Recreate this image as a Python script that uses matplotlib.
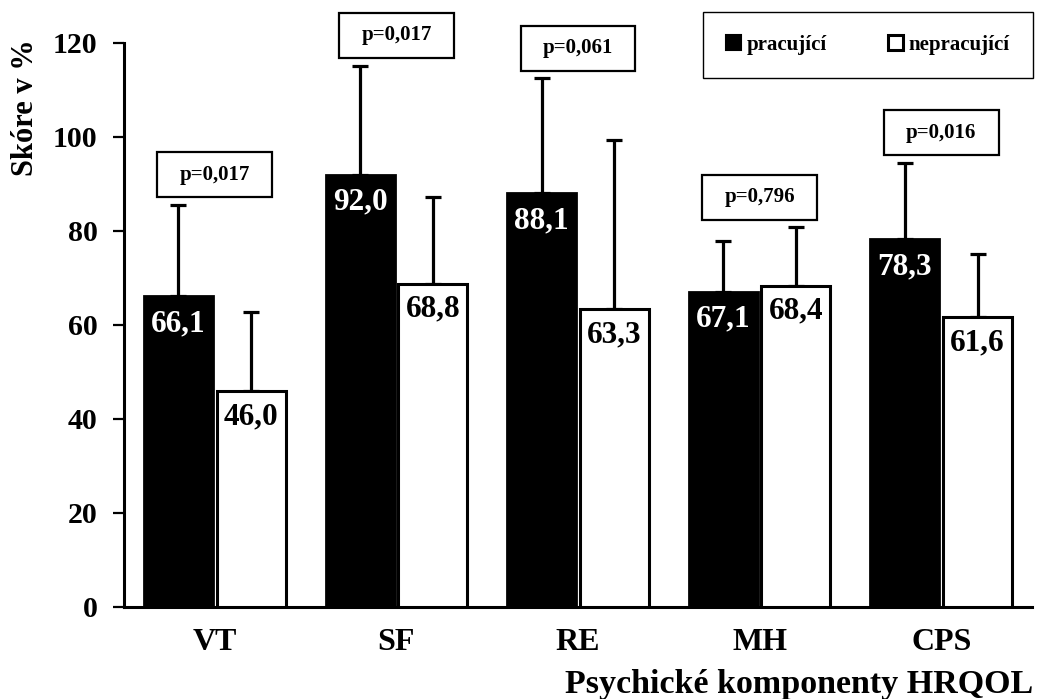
import matplotlib
matplotlib.use("Agg")
import matplotlib.pyplot as plt
from matplotlib.patches import Rectangle, Patch
import numpy as np

categories = ["VT", "SF", "RE", "MH", "CPS"]
working = [66.1, 92.0, 88.1, 67.1, 78.3]
not_working = [46.0, 68.8, 63.3, 68.4, 61.6]
working_sd = [19.5, 23.2, 24.4, 10.7, 16.2]
not_working_sd = [16.7, 18.5, 36.1, 12.4, 13.4]
p_values = ["p=0,017", "p=0,017", "p=0,061", "p=0,796", "p=0,016"]
series_names = ["pracující", "nepracující"]
yticks = [0, 20, 40, 60, 80, 100, 120]

plt.rcParams['font.family'] = ['Liberation Serif', 'DejaVu Serif']
plt.rcParams['font.weight'] = 'bold'

fig = plt.figure(figsize=(10.38, 6.99), dpi=100)
ax = fig.add_axes([0.11946, 0.13162, 0.87476, 0.80687])

x = np.arange(len(categories))
w = 0.38
off = 0.2

ax.bar(x - off, working, w, color="black", edgecolor="black", linewidth=2, zorder=3)
ax.bar(x + off, not_working, w, color="white", edgecolor="black", linewidth=2.2, zorder=3)

ax.errorbar(x - off, working, yerr=[np.zeros(len(x)), working_sd], fmt='none',
            ecolor='black', elinewidth=2.3, capsize=5.5, capthick=2.3, zorder=2)
ax.errorbar(x + off, not_working, yerr=[np.zeros(len(x)), not_working_sd], fmt='none',
            ecolor='black', elinewidth=2.3, capsize=5.5, capthick=2.3, zorder=2)

for xi, v in zip(x - off, working):
    ax.annotate(f"{v:.1f}".replace('.', ','), (xi, v), xytext=(0, -20), textcoords='offset points',
                ha='center', va='center', color='white', fontsize=22.5, fontweight='bold', zorder=5)
for xi, v in zip(x + off, not_working):
    ax.annotate(f"{v:.1f}".replace('.', ','), (xi, v), xytext=(0, -18.5), textcoords='offset points',
                ha='center', va='center', color='black', fontsize=22.5, fontweight='bold', zorder=5)

# p-value boxes
bw, bh = 0.633, 9.6
for xi, a, sa, b, sb, p in zip(x, working, working_sd, not_working, not_working_sd, p_values):
    bottom = max(a + sa, b + sb) + 1.6
    rect = Rectangle((xi - bw / 2, bottom), bw, bh, facecolor='white', edgecolor='black',
                     linewidth=1.6, clip_on=False, zorder=6)
    ax.add_patch(rect)
    ax.text(xi, bottom + bh / 2, p, ha='center', va='center', fontsize=15, fontweight='bold',
            clip_on=False, zorder=7)

ax.set_xlim(-0.5, len(categories) - 0.5)
ax.set_ylim(0, 120)
ax.set_yticks(yticks)
ax.set_yticklabels([str(t) for t in yticks], fontsize=21.5, fontweight='bold')
ax.set_xticks(x)
ax.set_xticklabels(categories, fontsize=23, fontweight='bold')
ax.tick_params(axis='x', length=0, pad=15)
ax.tick_params(axis='y', length=8, width=1.6, pad=11, direction='out')

for s in ['top', 'right']:
    ax.spines[s].set_visible(False)
for s in ['left', 'bottom']:
    ax.spines[s].set_linewidth(2.2)

ax.set_xlabel("Psychické komponenty HRQOL", fontsize=24.5, fontweight='bold', loc='right')
ax.xaxis.set_label_coords(1.001, -0.152)
ax.xaxis.label.set_va('baseline')

ax.set_ylabel("Skóre v %", fontsize=22, fontweight='bold')
ax.yaxis.set_label_coords(-0.109, 0.885)
ax.yaxis.label.set_va('center')
ax.yaxis.label.set_ha('center')

handles = [Patch(facecolor='black', edgecolor='black', linewidth=1.5),
           Patch(facecolor='white', edgecolor='black', linewidth=2.2)]
leg = ax.legend(handles, series_names, ncol=2, loc='center',
                bbox_to_anchor=(0.836, 0.9356), bbox_transform=fig.transFigure,
                frameon=True, fancybox=False, edgecolor='black', framealpha=1,
                prop={'size': 15, 'weight': 'bold'}, borderpad=1.1,
                handlelength=0.72, handleheight=0.72, handletextpad=0.3,
                columnspacing=2.9)
leg.get_frame().set_linewidth(1.0)

fig.savefig("out.png", dpi=100)
